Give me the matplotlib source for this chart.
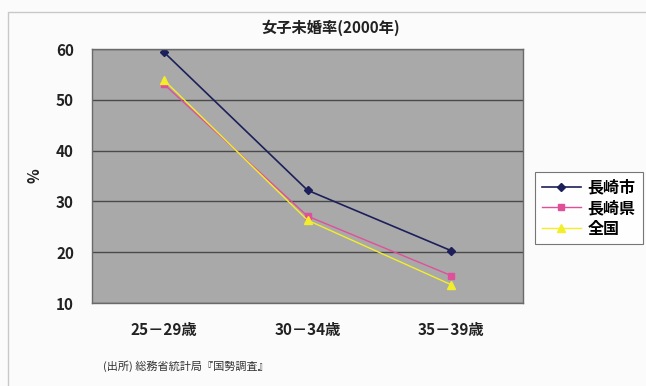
import matplotlib.pyplot as plt
from matplotlib.patches import Rectangle

plt.rcParams['font.family'] = ['Noto Sans CJK JP', 'DejaVu Sans']

# 年齢階級別の女子未婚率 (%)
ages = ['25－29歳', '30－34歳', '35－39歳']
nagasaki_city = [59.4, 32.2, 20.3]
nagasaki_pref = [53.1, 27.1, 15.4]
zenkoku = [53.9, 26.3, 13.6]

fig = plt.figure(figsize=(6.46, 3.86), dpi=100)
fig.patch.set_facecolor('#fbfbfb')

# 外枠
fig.patches.append(Rectangle((8 / 646, -0.05), 1.0, 1 - 12 / 386 + 0.05,
                             transform=fig.transFigure, fill=False,
                             edgecolor='#c8c8c8', linewidth=1.0))

ax = fig.add_axes([92 / 646, 1 - 303 / 386, 431 / 646, 254 / 386])
ax.set_facecolor('#a9a9a9')

x = range(len(ages))
ax.plot(x, nagasaki_city, color='#1c1f5a', marker='D', markersize=4.5,
        linewidth=1.2, label='長崎市')
ax.plot(x, nagasaki_pref, color='#e0509a', marker='s', markersize=5,
        linewidth=1.0, label='長崎県')
ax.plot(x, zenkoku, color='#f2ee2a', marker='^', markersize=5.5,
        linewidth=1.0, label='全国')

ax.set_xlim(-0.5, 2.5)
ax.set_ylim(10, 60)
ax.set_yticks([10, 20, 30, 40, 50, 60])
ax.set_xticks(list(x))
ax.set_xticklabels(ages, fontsize=11, fontweight='bold', color='#222222')
for lab in ax.get_yticklabels():
    lab.set_fontsize(11)
    lab.set_fontweight('bold')
    lab.set_color('#222222')
ax.tick_params(axis='both', length=0)
ax.tick_params(axis='x', pad=14)
ax.tick_params(axis='y', pad=13)
ax.grid(axis='y', color='#4a4a4a', linewidth=1.0)
ax.set_axisbelow(True)
for side in ['top', 'right', 'bottom', 'left']:
    ax.spines[side].set_color('#6a6a6a')
    ax.spines[side].set_linewidth(1.0)

ax.set_ylabel('%', fontsize=11, fontweight='bold', color='#222222')
ax.yaxis.set_label_coords(-0.115, 0.5)

fig.text(331 / 646, 1 - 28 / 386, '女子未婚率(2000年)', ha='center', va='center',
         fontsize=11, fontweight='bold', color='#222222')

fig.text(103 / 646, 1 - 366 / 386, '(出所) 総務省統計局『国勢調査』', ha='left',
         va='center', fontsize=8, color='#333333')

leg = ax.legend(loc='upper left', bbox_to_anchor=(535 / 646, 1 - 172 / 386),
                bbox_transform=fig.transFigure, frameon=True, fancybox=False,
                prop={'weight': 'bold', 'size': 11.5},
                borderaxespad=0, handlelength=2.4, labelspacing=0.3,
                borderpad=0.45, handletextpad=0.45)
leg.get_frame().set_edgecolor('#555555')
leg.get_frame().set_facecolor('#ffffff')
leg.get_frame().set_linewidth(0.8)

fig.savefig('out.png', dpi=100, facecolor=fig.get_facecolor())
